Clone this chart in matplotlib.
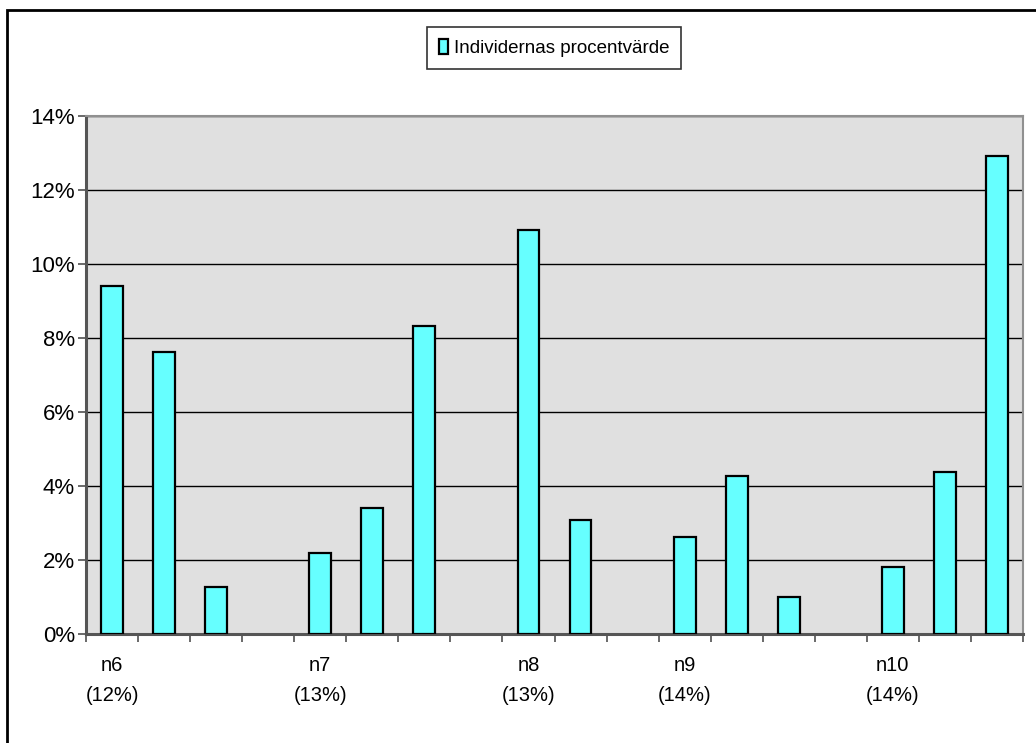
import matplotlib
matplotlib.use("Agg")
import matplotlib.pyplot as plt
import numpy as np
from matplotlib.patches import Rectangle
from matplotlib.ticker import FixedLocator, FuncFormatter

# andel per individ, grupperat efter n
values = [9.40, 7.63, 1.27, 0.0, 2.20, 3.40, 8.33, 0.0, 10.90, 3.07,
          0.0, 2.63, 4.28, 0.99, 0.0, 1.82, 4.38, 12.90]
group_pos = [0, 4, 8, 11, 15]
group_names = ["n6", "n7", "n8", "n9", "n10"]
group_shares = ["(12%)", "(13%)", "(13%)", "(14%)", "(14%)"]
y_ticks = [0, 2, 4, 6, 8, 10, 12, 14]

plt.rcParams['font.family'] = ['Liberation Sans', 'DejaVu Sans']

W, H = 1036, 743
fig = plt.figure(figsize=(W / 100, H / 100), dpi=100)

# yttre ram (bara vänster och övre kant syns)
fig.patches.append(Rectangle((7 / W, -0.1), 1.2, 1 - 10 / H + 0.1,
                             transform=fig.transFigure, fill=False,
                             edgecolor='black', linewidth=2))

left, right, top, bottom = 86, 1023, 115.7, 634
ax = fig.add_axes([left / W, 1 - bottom / H, (right - left) / W, (bottom - top) / H])
ax.set_facecolor('#e0e0e0')

x = np.arange(len(values))
bars = ax.bar(x, values, width=0.42, color='#66ffff', edgecolor='black',
              linewidth=1.6, zorder=3, label='Individernas procentvärde')
for b, v in zip(bars, values):
    if v == 0:
        b.set_visible(False)

ax.set_xlim(-0.5, len(values) - 0.5)
ax.set_ylim(0, 14)
ax.set_yticks(y_ticks)
ax.yaxis.set_major_formatter(FuncFormatter(lambda v, p: f"{v:.0f}%"))
ax.yaxis.grid(True, color='black', linewidth=1, zorder=1)

ax.xaxis.set_major_locator(FixedLocator(np.arange(len(values) + 1) - 0.5))
ax.set_xticklabels([])
ax.tick_params(axis='x', length=6, width=1.2, color='#505050')
ax.tick_params(axis='y', length=6, width=1.2, color='#505050', labelsize=16, pad=2)

for pos, name, share in zip(group_pos, group_names, group_shares):
    ax.text(pos, -0.85, name, ha='center', va='center', fontsize=14.5)
    ax.text(pos, -1.65, share, ha='center', va='center', fontsize=14.5)

for s in ['left', 'bottom']:
    ax.spines[s].set_color('#555555')
    ax.spines[s].set_linewidth(2.2)
for s in ['top', 'right']:
    ax.spines[s].set_color('#909090')
    ax.spines[s].set_linewidth(1.5)

leg = fig.legend(handles=[bars], labels=['Individernas procentvärde'],
                 loc='center', bbox_to_anchor=(554 / W, 1 - 48 / H),
                 fontsize=13.5, frameon=True, fancybox=False, edgecolor='black',
                 handlelength=0.5, handleheight=0.85, handletextpad=0.3,
                 borderpad=0.65, borderaxespad=0)
leg.get_frame().set_linewidth(1.2)

fig.savefig("out.png", dpi=100)
